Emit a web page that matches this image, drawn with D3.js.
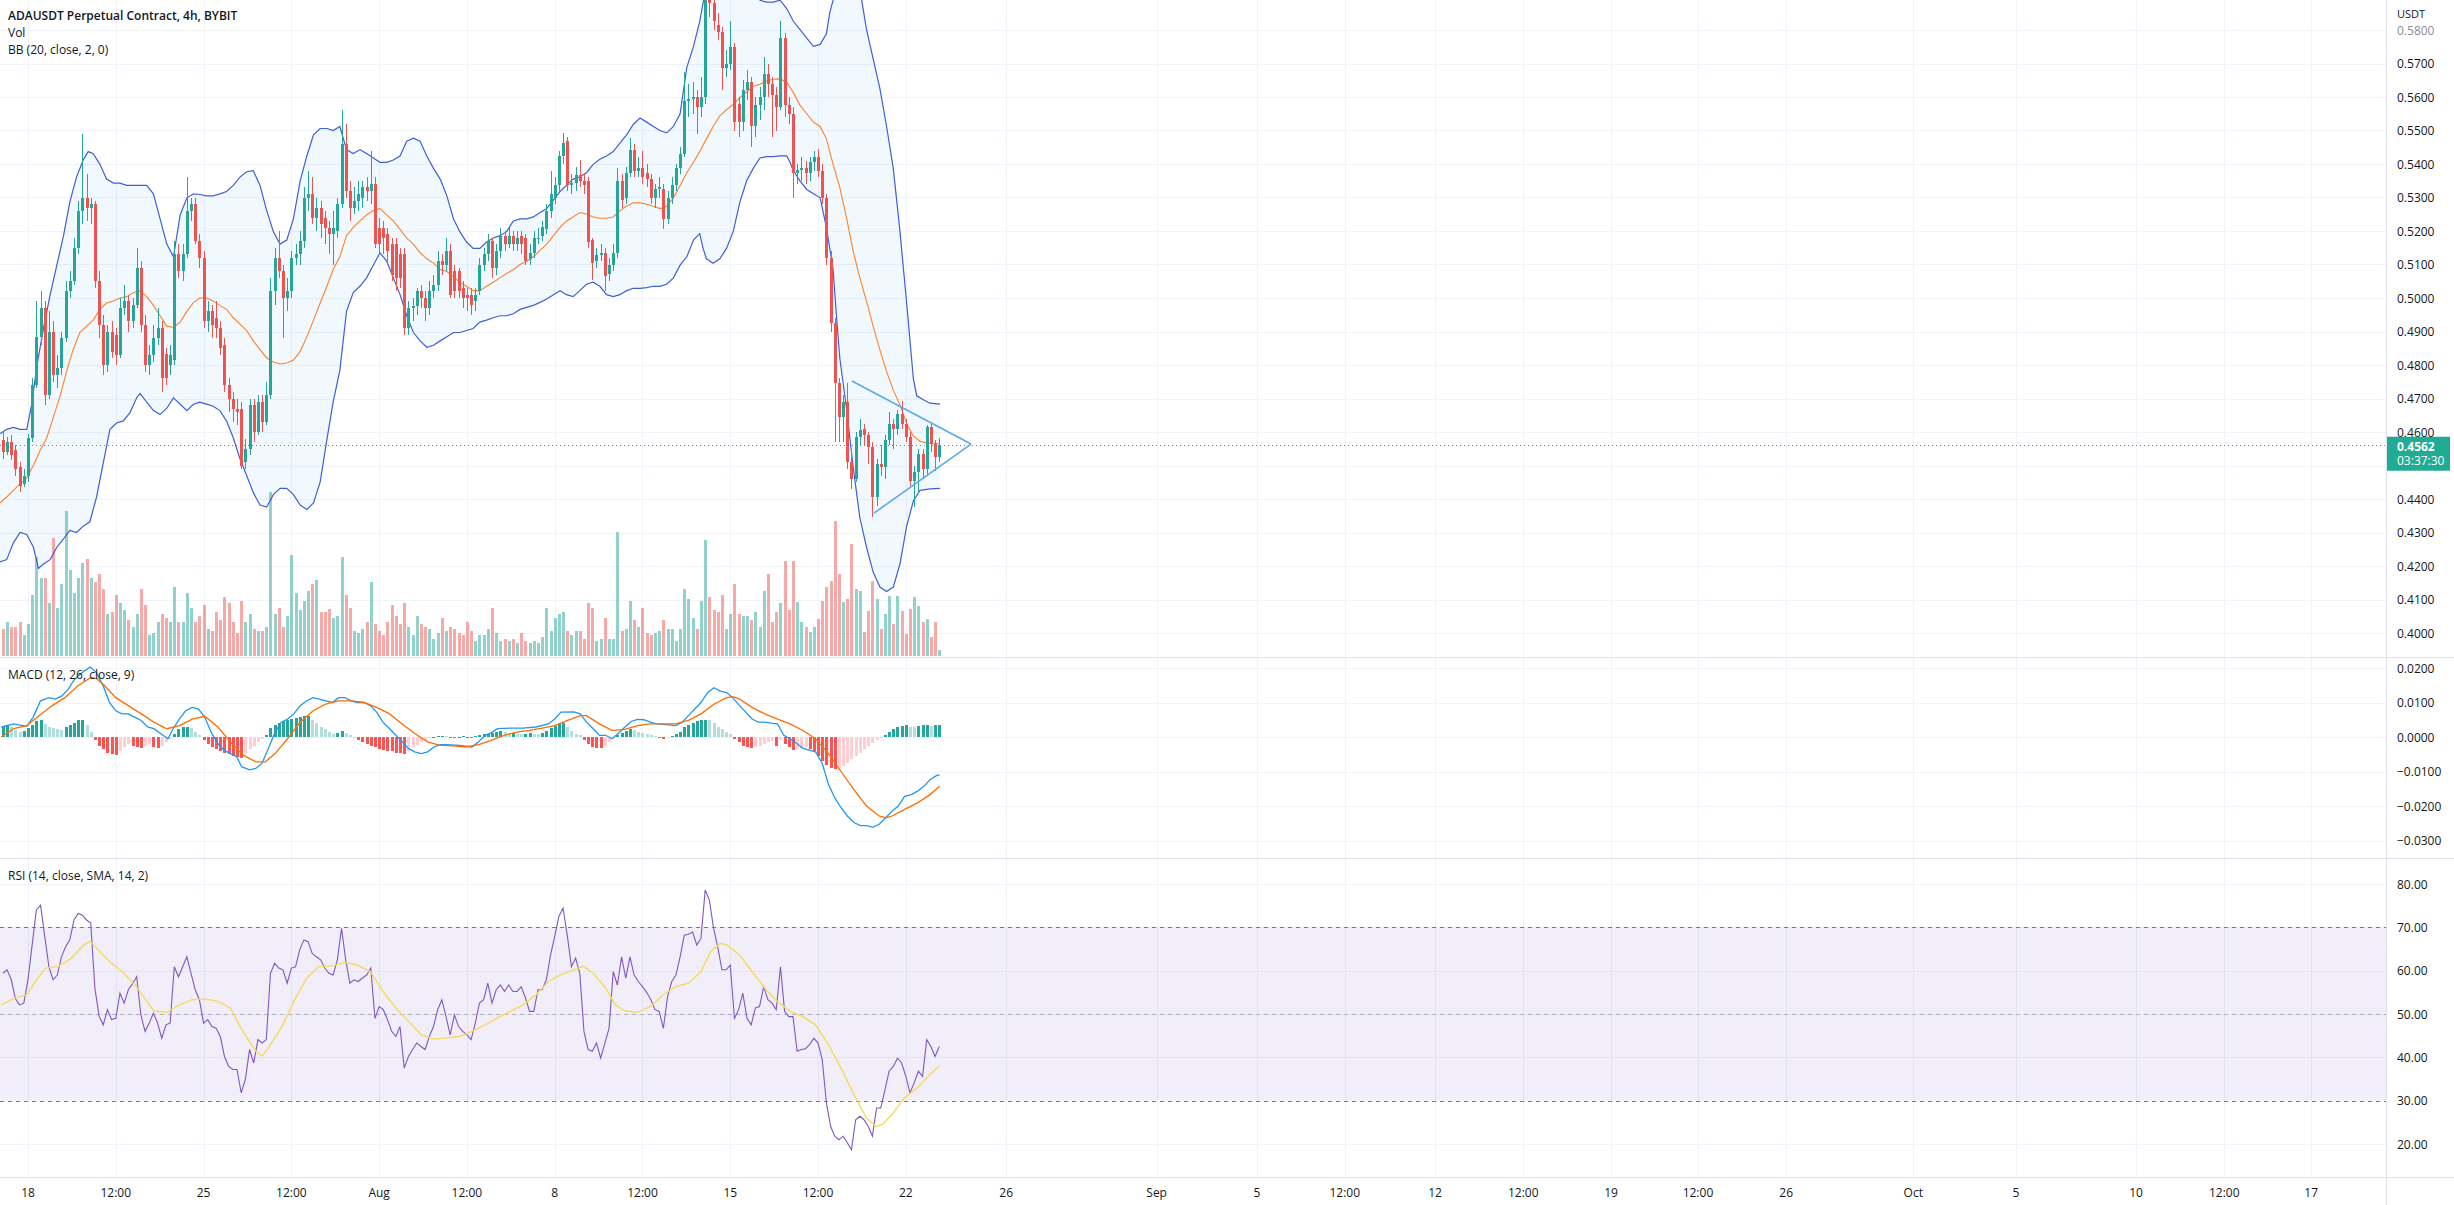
<!DOCTYPE html>
<html><head><meta charset="utf-8">
<script src="https://cdn.jsdelivr.net/npm/d3@7"></script>
<style>
html,body{margin:0;padding:0;background:#fff;overflow:hidden}
svg{display:block;font-family:"Open Sans",sans-serif}
</style></head><body>
<svg id="c" width="2454" height="1205"></svg>
<script>
// ---------------- DATA ----------------
const firstBar = -6; // bar index of the first candle (bar 0 = Jul 18 00:00, 4h bars)
const ohlc = [
[0.4577,0.4600,0.4520,0.4539],[0.4539,0.4585,0.4530,0.4570],[0.4570,0.4590,0.4515,0.4530],[0.4545,0.4560,0.4470,0.4490],
[0.4495,0.4510,0.4420,0.4440],[0.4445,0.4490,0.4435,0.4470],[0.4470,0.4595,0.4450,0.4583],[0.4583,0.4760,0.4570,0.4740],
[0.4740,0.4990,0.4730,0.4884],[0.4884,0.5020,0.4860,0.4970],[0.4970,0.4990,0.4680,0.4710],[0.4710,0.4960,0.4700,0.4900],
[0.4900,0.4930,0.4750,0.4770],[0.4770,0.4830,0.4730,0.4790],[0.4790,0.4900,0.4770,0.4880],[0.4880,0.5050,0.4870,0.5020],
[0.5020,0.5080,0.5000,0.5050],[0.5050,0.5180,0.5040,0.5150],[0.5150,0.5290,0.5130,0.5260],[0.5260,0.5490,0.5220,0.5300],
[0.5300,0.5370,0.5230,0.5270],[0.5270,0.5300,0.5220,0.5280],[0.5280,0.5290,0.5030,0.5050],[0.5050,0.5080,0.4880,0.4920],
[0.4920,0.4950,0.4770,0.4800],[0.4800,0.4920,0.4780,0.4900],[0.4900,0.4930,0.4820,0.4840],[0.4890,0.4910,0.4800,0.4830],
[0.4830,0.5000,0.4820,0.4970],[0.4970,0.5040,0.4950,0.4990],[0.4990,0.5010,0.4900,0.4930],[0.4930,0.5000,0.4910,0.4980],
[0.4980,0.5150,0.4970,0.5090],[0.5090,0.5110,0.4900,0.4920],[0.4920,0.4950,0.4780,0.4800],[0.4800,0.4860,0.4770,0.4830],
[0.4830,0.4920,0.4810,0.4880],[0.4880,0.4970,0.4860,0.4910],[0.4910,0.4930,0.4720,0.4760],[0.4834,0.4850,0.4740,0.4760],
[0.4800,0.4860,0.4770,0.4830],[0.4815,0.5170,0.4800,0.5130],[0.5130,0.5160,0.5060,0.5080],[0.5080,0.5160,0.5050,0.5130],
[0.5130,0.5360,0.5120,0.5260],[0.5260,0.5300,0.5230,0.5280],[0.5280,0.5300,0.5160,0.5170],[0.5170,0.5190,0.5090,0.5120],
[0.5120,0.5140,0.4910,0.4930],[0.4930,0.4990,0.4900,0.4960],[0.4960,0.4980,0.4880,0.4920],[0.4940,0.4990,0.4880,0.4910],
[0.4910,0.4930,0.4830,0.4850],[0.4860,0.4880,0.4720,0.4740],[0.4740,0.4760,0.4660,0.4700],[0.4700,0.4720,0.4630,0.4670],
[0.4670,0.4700,0.4620,0.4660],[0.4670,0.4690,0.4490,0.4500],[0.4510,0.4580,0.4490,0.4550],[0.4550,0.4700,0.4530,0.4680],
[0.4680,0.4700,0.4570,0.4600],[0.4600,0.4710,0.4590,0.4690],[0.4690,0.4710,0.4600,0.4630],[0.4630,0.4750,0.4620,0.4710],
[0.4710,0.5060,0.4700,0.5020],[0.5020,0.5150,0.4980,0.5120],[0.5120,0.5200,0.5060,0.5080],[0.5080,0.5100,0.4880,0.5000],
[0.5000,0.5060,0.4960,0.5020],[0.5020,0.5140,0.5000,0.5120],[0.5120,0.5160,0.5100,0.5130],[0.5130,0.5200,0.5100,0.5170],
[0.5170,0.5330,0.5150,0.5300],[0.5300,0.5380,0.5260,0.5310],[0.5310,0.5360,0.5220,0.5240],[0.5240,0.5300,0.5200,0.5270],
[0.5270,0.5290,0.5180,0.5220],[0.5240,0.5260,0.5160,0.5210],[0.5210,0.5230,0.5130,0.5190],[0.5190,0.5260,0.5100,0.5210],
[0.5200,0.5300,0.5180,0.5280],[0.5280,0.5560,0.5270,0.5460],[0.5460,0.5520,0.5300,0.5320],[0.5320,0.5350,0.5230,0.5270],
[0.5270,0.5330,0.5250,0.5290],[0.5290,0.5350,0.5260,0.5310],[0.5300,0.5350,0.5270,0.5330],[0.5330,0.5360,0.5290,0.5320],
[0.5320,0.5440,0.5280,0.5340],[0.5340,0.5360,0.5150,0.5160],[0.5210,0.5240,0.5130,0.5160],[0.5210,0.5230,0.5130,0.5180],
[0.5190,0.5210,0.5100,0.5140],[0.5160,0.5180,0.5050,0.5070],[0.5160,0.5180,0.5020,0.5060],[0.5130,0.5150,0.5030,0.5060],
[0.5130,0.5150,0.4890,0.4910],[0.4910,0.4990,0.4890,0.4970],[0.4970,0.5000,0.4930,0.4975],[0.4975,0.5030,0.4950,0.5020],
[0.5020,0.5040,0.4970,0.5000],[0.5000,0.5020,0.4930,0.4970],[0.4970,0.5050,0.4950,0.5020],[0.5020,0.5070,0.5000,0.5040],
[0.5040,0.5140,0.5020,0.5110],[0.5110,0.5130,0.5070,0.5100],[0.5100,0.5180,0.5080,0.5140],[0.5140,0.5160,0.5000,0.5010],
[0.5080,0.5100,0.5000,0.5020],[0.5080,0.5090,0.5000,0.5020],[0.5030,0.5050,0.4970,0.5000],[0.5010,0.5030,0.4960,0.5000],
[0.5010,0.5030,0.4950,0.4980],[0.4990,0.5030,0.4960,0.5010],[0.5020,0.5120,0.5010,0.5100],[0.5100,0.5150,0.5080,0.5130],
[0.5130,0.5190,0.5110,0.5170],[0.5170,0.5180,0.5060,0.5090],[0.5090,0.5160,0.5070,0.5140],[0.5140,0.5210,0.5120,0.5186],
[0.5186,0.5200,0.5140,0.5161],[0.5161,0.5210,0.5150,0.5186],[0.5186,0.5200,0.5140,0.5161],[0.5161,0.5200,0.5140,0.5180],
[0.5186,0.5200,0.5130,0.5161],[0.5180,0.5190,0.5098,0.5110],[0.5117,0.5160,0.5100,0.5135],[0.5135,0.5200,0.5120,0.5180],
[0.5175,0.5210,0.5160,0.5180],[0.5186,0.5230,0.5170,0.5211],[0.5205,0.5280,0.5190,0.5261],[0.5261,0.5380,0.5240,0.5311],
[0.5300,0.5360,0.5280,0.5336],[0.5336,0.5440,0.5320,0.5424],[0.5424,0.5493,0.5400,0.5462],[0.5468,0.5480,0.5320,0.5336],
[0.5336,0.5370,0.5310,0.5343],[0.5343,0.5390,0.5320,0.5368],[0.5368,0.5412,0.5330,0.5349],[0.5349,0.5370,0.5310,0.5336],
[0.5349,0.5360,0.5150,0.5167],[0.5173,0.5180,0.5054,0.5104],[0.5110,0.5150,0.5090,0.5129],[0.5129,0.5160,0.5110,0.5135],
[0.5135,0.5150,0.5022,0.5066],[0.5073,0.5120,0.5050,0.5098],[0.5098,0.5160,0.5080,0.5135],[0.5135,0.5387,0.5120,0.5349],
[0.5349,0.5370,0.5270,0.5292],[0.5299,0.5390,0.5280,0.5374],[0.5374,0.5479,0.5360,0.5443],[0.5443,0.5460,0.5360,0.5380],
[0.5380,0.5420,0.5360,0.5387],[0.5387,0.5440,0.5340,0.5361],[0.5374,0.5400,0.5330,0.5355],[0.5355,0.5370,0.5280,0.5299],
[0.5299,0.5340,0.5270,0.5324],[0.5324,0.5360,0.5300,0.5330],[0.5324,0.5340,0.5205,0.5236],[0.5236,0.5320,0.5220,0.5299],
[0.5299,0.5360,0.5280,0.5336],[0.5336,0.5400,0.5320,0.5387],[0.5387,0.5450,0.5370,0.5431],[0.5431,0.5675,0.5420,0.5588],
[0.5588,0.5640,0.5540,0.5594],[0.5594,0.5645,0.5550,0.5600],[0.5600,0.5620,0.5490,0.5569],[0.5569,0.5660,0.5540,0.5600],
[0.5600,0.5990,0.5580,0.5920],[0.5920,0.5980,0.5840,0.5880],[0.5880,0.5900,0.5800,0.5826],[0.5814,0.5850,0.5770,0.5795],
[0.5795,0.5810,0.5620,0.5688],[0.5688,0.5740,0.5660,0.5700],[0.5700,0.5826,0.5680,0.5750],[0.5750,0.5760,0.5500,0.5525],
[0.5580,0.5600,0.5480,0.5525],[0.5525,0.5650,0.5500,0.5620],[0.5620,0.5680,0.5590,0.5644],[0.5644,0.5660,0.5450,0.5512],
[0.5512,0.5600,0.5480,0.5575],[0.5575,0.5630,0.5530,0.5600],[0.5600,0.5720,0.5560,0.5670],[0.5670,0.5700,0.5600,0.5638],
[0.5638,0.5660,0.5480,0.5607],[0.5607,0.5630,0.5500,0.5570],[0.5570,0.5826,0.5560,0.5776],[0.5776,0.5790,0.5540,0.5575],
[0.5575,0.5600,0.5520,0.5550],[0.5550,0.5570,0.5300,0.5374],[0.5374,0.5400,0.5340,0.5382],[0.5382,0.5420,0.5350,0.5387],
[0.5387,0.5410,0.5340,0.5374],[0.5374,0.5420,0.5350,0.5405],[0.5405,0.5440,0.5380,0.5420],[0.5420,0.5445,0.5360,0.5380],
[0.5380,0.5400,0.5280,0.5300],[0.5300,0.5310,0.5100,0.5120],[0.5120,0.5140,0.4900,0.4925],[0.4925,0.4940,0.4570,0.4746],
[0.4746,0.4760,0.4570,0.4645],[0.4645,0.4710,0.4570,0.4689],[0.4689,0.4746,0.4490,0.4510],[0.4510,0.4550,0.4430,0.4460],
[0.4460,0.4600,0.4450,0.4585],[0.4585,0.4640,0.4560,0.4605],[0.4610,0.4625,0.4560,0.4590],[0.4590,0.4600,0.4505,0.4555],
[0.4555,0.4570,0.4347,0.4406],[0.4406,0.4520,0.4380,0.4505],[0.4505,0.4560,0.4470,0.4496],[0.4496,0.4590,0.4460,0.4575],
[0.4575,0.4660,0.4560,0.4625],[0.4625,0.4640,0.4550,0.4610],[0.4610,0.4665,0.4590,0.4655],[0.4655,0.4694,0.4610,0.4625],
[0.4625,0.4640,0.4570,0.4585],[0.4585,0.4600,0.4440,0.4455],[0.4455,0.4500,0.4375,0.4480],[0.4480,0.4550,0.4420,0.4535],
[0.4535,0.4550,0.4460,0.4490],[0.4490,0.4620,0.4470,0.4615],[0.4615,0.4625,0.4540,0.4565],[0.4565,0.4575,0.4485,0.4525],
[0.4525,0.4582,0.4510,0.4562]
];
const volume = [
6.5,8,7,7,8,5,7.5,14.5,23.5,18.5,18.5,12.5,28,11.5,17,34.5,20.5,15,18.5,22,23,18.5,17.5,19.5,16,10,10.5,14.5,12.5,11,
8.5,7,10,16,12,5,5.5,8,10,9,8,16.5,8,8,15,11.5,8,9.5,12,6.5,6,10.5,8.5,14,12.5,8,5.5,13,8,10,
6.5,6,6,7,39,10,11.5,7,9.5,24,15,11,13,15.5,17,18,10.5,10.5,11.2,9,9.5,23.5,14.5,11.5,6,5.5,6.5,8,17.5,7.5,
6,5,8,12,9.5,7.5,12.5,7,5,9.5,7.5,7,6.5,4,5.5,9,6,7,6.5,5.5,5,8,6,3.5,5,5,6.5,11.5,5.5,
3.5,4,3.5,4,3,5.5,3.5,3,3.5,3,4.5,11.5,6,9,10,10.5,6,5,6,6,4,12.5,11.5,3.5,4,9,4,4,29.5,6,
6.5,13,8.5,7,11.5,5.5,5,5.5,6,8.5,6.5,6.5,3.5,6.5,16,13.5,9,6.5,13,27.5,14,11,10.5,14.5,6.5,10,17,10,9.5,9.5,
8.5,10.5,7,15.5,19.5,8,10.5,12.5,22.5,11,22.5,12.8,8.1,6.9,5.7,6.9,8.8,13.1,16.4,17.8,32,19.5,12.8,13.5,26.6,15.9,15.4,5.7,10.7,17.8,
13.5,6.4,10,14.3,7.6,14.3,10.7,5.2,11.2,14,11.9,8.1,8.8,4.5,8.1,1.5
];
// Bollinger Bands (20, close, 2): [bar index, price]
const bbUpper = [[-6.7,0.4595],[-5.1,0.4608],[-3.5,0.4614],[-1.9,0.4608],[-0.3,0.4608],[0.9,0.4683],[2.1,0.4796],[3.7,0.4909],[5.3,0.5010],[6.9,0.5098],[8.5,0.5186],[10.0,0.5286],[11.6,0.5361],[13.2,0.5412],[14.4,0.5437],[15.6,0.5431],[17.2,0.5399],[18.8,0.5355],[20.4,0.5343],[22.0,0.5343],[23.6,0.5336],[25.2,0.5336],[26.8,0.5336],[28.4,0.5336],[30.0,0.5311],[31.6,0.5236],[33.2,0.5161],[34.8,0.5123],[36.4,0.5248],[38.0,0.5299],[39.6,0.5311],[41.1,0.5309],[42.7,0.5305],[44.3,0.5305],[45.9,0.5311],[47.5,0.5318],[49.1,0.5336],[50.7,0.5361],[52.3,0.5377],[53.9,0.5380],[55.5,0.5336],[57.1,0.5261],[58.7,0.5198],[60.3,0.5161],[61.9,0.5173],[63.5,0.5236],[65.1,0.5349],[66.7,0.5424],[68.3,0.5487],[69.9,0.5506],[71.5,0.5506],[73.0,0.5500],[74.6,0.5512],[76.2,0.5443],[77.8,0.5431],[79.4,0.5443],[81.0,0.5431],[82.6,0.5418],[84.2,0.5405],[85.8,0.5405],[87.4,0.5412],[89.0,0.5424],[90.6,0.5468],[92.2,0.5477],[93.8,0.5468],[95.4,0.5424],[97.0,0.5387],[98.6,0.5355],[100.2,0.5305],[101.8,0.5236],[103.3,0.5198],[104.9,0.5167],[106.5,0.5148],[108.1,0.5148],[109.7,0.5167],[111.3,0.5179],[112.9,0.5186],[114.5,0.5198],[116.1,0.5230],[117.7,0.5236],[119.3,0.5236],[120.9,0.5242],[122.5,0.5255],[124.1,0.5267],[125.7,0.5292],[127.3,0.5318],[128.8,0.5336],[130.4,0.5355],[132.0,0.5361],[133.6,0.5374],[135.2,0.5399],[136.8,0.5414],[138.4,0.5424],[140.0,0.5437],[141.6,0.5462],[143.2,0.5487],[144.8,0.5518],[146.4,0.5537],[148.0,0.5525],[149.6,0.5512],[151.2,0.5500],[152.8,0.5493],[154.4,0.5512],[156.0,0.5550],[157.6,0.5688],[159.2,0.5751],[160.7,0.5826],[162.5,0.5950],[165,0.6030],[168,0.6040],[171,0.5990],[174,0.5920],[175.1,0.5889],[176.7,0.5883],[178.3,0.5883],[179.9,0.5889],[181.5,0.5864],[183.1,0.5826],[184.7,0.5801],[186.3,0.5776],[187.9,0.5751],[189.5,0.5757],[191.0,0.5789],[191.8,0.5851],[192.6,0.5889],[194,0.5990],[196,0.6050],[198,0.6000],[199.3,0.5900],[200.6,0.5801],[202.2,0.5713],[203.8,0.5625],[205.4,0.5512],[207.0,0.5387],[208.6,0.5198],[210.2,0.4985],[211.0,0.4872],[211.8,0.4759],[212.6,0.4708],[214.2,0.4696],[215.8,0.4686],[218.2,0.4683]];
const bbLower = [[-6.7,0.4212],[-5.1,0.4219],[-3.5,0.4269],[-1.9,0.4300],[-0.3,0.4294],[1.3,0.4256],[2.5,0.4193],[3.7,0.4206],[5.3,0.4219],[6.9,0.4256],[8.5,0.4281],[10.0,0.4306],[11.6,0.4300],[13.2,0.4319],[14.8,0.4332],[16.4,0.4406],[18.0,0.4507],[19.6,0.4608],[21.2,0.4627],[22.8,0.4633],[24.4,0.4658],[26.0,0.4702],[26.8,0.4715],[28.4,0.4689],[30.0,0.4664],[31.6,0.4652],[33.2,0.4671],[34.8,0.4702],[36.4,0.4683],[38.0,0.4664],[39.6,0.4683],[41.1,0.4689],[42.7,0.4683],[44.3,0.4677],[45.9,0.4664],[47.5,0.4633],[49.1,0.4583],[50.7,0.4520],[52.3,0.4470],[53.9,0.4419],[55.5,0.4382],[57.1,0.4376],[58.7,0.4413],[60.3,0.4432],[61.9,0.4432],[63.5,0.4413],[65.1,0.4382],[66.7,0.4369],[68.3,0.4388],[69.9,0.4451],[71.5,0.4577],[73.0,0.4689],[74.6,0.4784],[76.2,0.4960],[77.8,0.5016],[79.4,0.5035],[81.0,0.5060],[82.6,0.5098],[84.2,0.5135],[85.8,0.5110],[87.4,0.5060],[89.0,0.5010],[90.6,0.4947],[92.2,0.4897],[93.8,0.4872],[95.4,0.4853],[97.0,0.4859],[98.6,0.4872],[100.2,0.4884],[101.8,0.4897],[103.3,0.4897],[104.9,0.4903],[106.5,0.4909],[108.1,0.4928],[109.7,0.4934],[111.3,0.4941],[112.9,0.4947],[114.5,0.4947],[116.1,0.4953],[117.7,0.4966],[119.3,0.4972],[120.9,0.4978],[122.5,0.4987],[124.1,0.4997],[125.7,0.5010],[127.3,0.5022],[128.8,0.5010],[130.4,0.5004],[132.0,0.5022],[133.6,0.5041],[135.2,0.5047],[136.8,0.5035],[138.4,0.5010],[140.0,0.5004],[141.6,0.5010],[143.2,0.5022],[144.8,0.5029],[146.4,0.5029],[148.0,0.5031],[149.6,0.5035],[151.2,0.5035],[152.8,0.5041],[154.4,0.5060],[156.0,0.5098],[157.6,0.5123],[159.2,0.5173],[160.7,0.5192],[161.5,0.5148],[162.3,0.5117],[163.9,0.5104],[165.5,0.5117],[167.1,0.5148],[168.7,0.5198],[170.3,0.5286],[171.9,0.5349],[173.5,0.5387],[175.1,0.5418],[176.7,0.5422],[178.3,0.5422],[179.9,0.5424],[181.5,0.5424],[182.3,0.5405],[183.1,0.5380],[184.7,0.5349],[186.3,0.5324],[187.9,0.5311],[189.5,0.5299],[191.0,0.5211],[192.6,0.5085],[193.4,0.4947],[194.2,0.4821],[195.8,0.4671],[197.4,0.4495],[199.0,0.4344],[200.6,0.4256],[202.2,0.4181],[203.8,0.4137],[205.4,0.4124],[207.0,0.4137],[208.6,0.4206],[210.2,0.4319],[211.8,0.4394],[213.4,0.4426],[215.8,0.4430],[218.2,0.4432]];
const bbBasis = [[-6.7,0.4388],[-5.1,0.4406],[-3.5,0.4426],[-1.9,0.4445],[-0.3,0.4463],[1.3,0.4501],[2.9,0.4545],[4.5,0.4583],[6.1,0.4646],[7.7,0.4708],[9.3,0.4784],[10.8,0.4846],[12.4,0.4897],[14.0,0.4916],[15.6,0.4934],[17.2,0.4966],[18.8,0.4985],[20.4,0.4991],[22.0,0.5000],[23.6,0.5004],[25.2,0.5016],[26.8,0.5022],[28.4,0.5004],[30.0,0.4978],[31.6,0.4947],[33.2,0.4916],[34.8,0.4912],[36.4,0.4928],[38.0,0.4960],[39.6,0.4987],[41.1,0.5000],[42.7,0.5000],[44.3,0.4991],[45.9,0.4978],[47.5,0.4966],[49.1,0.4941],[50.7,0.4922],[52.3,0.4903],[53.9,0.4872],[55.5,0.4846],[57.1,0.4821],[58.7,0.4809],[60.3,0.4803],[61.9,0.4806],[63.5,0.4815],[65.1,0.4840],[66.7,0.4884],[68.3,0.4934],[69.9,0.4985],[71.5,0.5035],[73.0,0.5085],[74.6,0.5123],[76.2,0.5186],[77.8,0.5211],[79.4,0.5230],[81.0,0.5248],[82.6,0.5261],[84.2,0.5267],[85.8,0.5248],[87.4,0.5230],[89.0,0.5205],[90.6,0.5179],[92.2,0.5161],[93.8,0.5135],[95.4,0.5117],[97.0,0.5104],[98.6,0.5085],[100.2,0.5079],[101.8,0.5063],[103.3,0.5047],[104.9,0.5035],[106.5,0.5022],[108.1,0.5022],[109.7,0.5035],[111.3,0.5047],[112.9,0.5060],[114.5,0.5073],[116.1,0.5085],[117.7,0.5100],[119.3,0.5110],[120.9,0.5123],[122.5,0.5142],[124.1,0.5161],[125.7,0.5186],[127.3,0.5211],[128.8,0.5230],[130.4,0.5242],[132.0,0.5255],[133.6,0.5251],[135.2,0.5242],[136.8,0.5238],[138.4,0.5238],[140.0,0.5242],[141.6,0.5261],[143.2,0.5274],[144.8,0.5284],[146.4,0.5284],[148.0,0.5280],[149.6,0.5274],[151.2,0.5267],[152.8,0.5274],[154.4,0.5299],[156.0,0.5336],[157.6,0.5374],[159.2,0.5405],[160.7,0.5437],[162.3,0.5475],[163.9,0.5512],[165.5,0.5544],[167.1,0.5562],[168.7,0.5578],[170.3,0.5598],[171.9,0.5615],[173.5,0.5632],[175.1,0.5638],[176.7,0.5648],[178.3,0.5653],[179.9,0.5654],[181.5,0.5644],[183.1,0.5613],[184.7,0.5575],[186.3,0.5550],[187.9,0.5525],[189.5,0.5512],[191.0,0.5475],[192.6,0.5399],[194.2,0.5330],[195.8,0.5240],[197.4,0.5140],[199.0,0.5060],[200.6,0.4990],[202.2,0.4915],[203.8,0.4845],[205.4,0.4780],[207.0,0.4725],[208.6,0.4681],[210.2,0.4625],[211.7,0.4590],[213.4,0.4572],[215.0,0.4567],[218.0,0.4565]];
// MACD (12, 26, close, 9)
const macdLine = [[-6.4,0.0029],[-3.4,0.0038],[-0.3,0.0031],[1.2,0.0057],[3.0,0.0105],[5.0,0.0114],[6.5,0.0110],[8.1,0.0119],[9.6,0.0138],[11.1,0.0167],[13.4,0.0191],[14.9,0.0203],[16.4,0.0186],[18.0,0.0148],[19.5,0.0100],[21.0,0.0076],[22.5,0.0067],[24.0,0.0067],[25.6,0.0057],[27.1,0.0048],[28.6,0.0029],[30.1,0.0024],[31.7,0.0010],[33.5,-0.0005],[34.7,0.0024],[36.2,0.0052],[37.7,0.0076],[39.3,0.0086],[40.8,0.0081],[42.3,0.0057],[43.8,0.0014],[45.4,-0.0019],[46.9,-0.0038],[48.4,-0.0048],[49.9,-0.0057],[51.1,-0.0086],[53.0,-0.0095],[54.5,-0.0091],[56.0,-0.0076],[57.5,-0.0033],[59.1,0.0014],[60.6,0.0043],[62.1,0.0052],[63.6,0.0067],[65.1,0.0091],[66.7,0.0105],[68.2,0.0114],[69.7,0.0110],[71.2,0.0105],[72.8,0.0100],[74.3,0.0114],[75.8,0.0114],[77.3,0.0105],[78.8,0.0100],[80.4,0.0100],[81.9,0.0091],[83.4,0.0072],[84.9,0.0043],[86.5,0.0024],[88.0,0.0005],[89.5,-0.0014],[91.0,-0.0033],[92.5,-0.0043],[94.1,-0.0048],[95.6,-0.0043],[97.1,-0.0029],[98.6,-0.0022],[100.2,-0.0022],[103.2,-0.0024],[106.2,-0.0029],[107.8,-0.0014],[109.3,0.0005],[110.8,0.0012],[112.3,0.0024],[115.4,0.0026],[118.4,0.0026],[121.5,0.0029],[124.5,0.0038],[126.0,0.0052],[127.5,0.0072],[130.6,0.0073],[132.1,0.0067],[133.6,0.0043],[135.2,0.0024],[136.7,0.0005],[138.2,0.0005],[139.7,-0.0005],[141.2,0.0010],[142.8,0.0029],[144.3,0.0045],[145.8,0.0051],[147.3,0.0050],[148.9,0.0043],[150.4,0.0038],[153.4,0.0035],[154.9,0.0033],[156.5,0.0043],[158.0,0.0062],[159.5,0.0081],[161.0,0.0100],[162.6,0.0129],[164.1,0.0143],[165.6,0.0133],[167.1,0.0129],[168.6,0.0114],[170.2,0.0091],[171.7,0.0072],[173.2,0.0052],[174.7,0.0043],[176.3,0.0043],[177.8,0.0040],[179.3,0.0038],[180.8,0.0005],[182.3,-0.0005],[183.9,-0.0019],[185.4,-0.0033],[186.9,-0.0038],[188.4,-0.0043],[190.0,-0.0076],[191.5,-0.0138],[193.0,-0.0176],[194.5,-0.0205],[196.0,-0.0229],[197.6,-0.0248],[199.1,-0.0257],[200.6,-0.0257],[202.1,-0.0262],[203.6,-0.0253],[205.2,-0.0234],[206.7,-0.0215],[208.2,-0.0200],[209.7,-0.0172],[211.3,-0.0167],[212.8,-0.0157],[214.3,-0.0143],[215.8,-0.0124],[217.3,-0.0112],[218.1,-0.0110]];
const macdSignal = [[-6.4,0.0000],[-3.4,0.0024],[-0.3,0.0033],[2.7,0.0062],[5.8,0.0091],[8.8,0.0114],[11.9,0.0148],[14.9,0.0172],[16.4,0.0169],[18.0,0.0153],[21.0,0.0114],[24.0,0.0091],[27.1,0.0067],[30.1,0.0043],[33.2,0.0024],[36.2,0.0033],[39.3,0.0052],[42.3,0.0060],[45.4,0.0029],[48.4,-0.0014],[51.4,-0.0052],[54.5,-0.0072],[56.8,-0.0072],[59.1,-0.0048],[62.1,-0.0005],[65.1,0.0043],[68.2,0.0076],[71.2,0.0095],[74.3,0.0105],[77.3,0.0105],[80.4,0.0100],[83.4,0.0086],[86.5,0.0067],[89.5,0.0038],[92.5,0.0010],[95.6,-0.0014],[98.6,-0.0024],[101.7,-0.0026],[104.7,-0.0029],[107.8,-0.0022],[110.8,-0.0010],[113.9,0.0005],[116.9,0.0014],[119.9,0.0019],[123.0,0.0026],[126.0,0.0033],[129.1,0.0048],[132.1,0.0062],[133.6,0.0062],[136.7,0.0038],[139.7,0.0019],[142.8,0.0022],[145.8,0.0033],[148.9,0.0038],[151.9,0.0038],[154.9,0.0038],[158.0,0.0048],[161.0,0.0067],[164.1,0.0095],[167.1,0.0114],[168.6,0.0117],[170.2,0.0110],[173.2,0.0086],[176.3,0.0067],[179.3,0.0052],[182.3,0.0038],[185.4,0.0019],[188.4,-0.0005],[191.5,-0.0048],[194.5,-0.0100],[197.6,-0.0153],[200.6,-0.0200],[203.6,-0.0229],[205.2,-0.0234],[206.7,-0.0229],[209.7,-0.0210],[212.8,-0.0191],[215.8,-0.0167],[218.1,-0.0143]];
const macdHist = [
.0030,.0035,.0028,.0020,.0015,.0018,.0025,.0035,.0045,.0048,.0038,.0030,.0025,.0022,.0020,.0028,.0035,.0042,.0048,.0050,
.0035,.0015,-.0010,-.0025,-.0035,-.0045,-.0050,-.0052,-.0040,-.0030,-.0020,-.0025,-.0030,-.0033,-.0025,-.0020,-.0030,-.0032,-.0025,-.0015,
-.0005,.0010,.0022,.0030,.0030,.0025,.0015,.0005,-.0008,-.0020,-.0030,-.0035,-.0040,-.0045,-.0050,-.0055,-.0058,-.0060,-.0045,-.0035,
-.0025,-.0015,-.0005,.0005,.0025,.0035,.0042,.0045,.0048,.0052,.0055,.0058,.0060,.0062,.0050,.0040,.0030,.0022,.0015,.0010,
.0012,.0018,.0012,.0005,.0000,-.0008,-.0015,-.0020,-.0025,-.0030,-.0035,-.0038,-.0040,-.0042,-.0045,-.0047,-.0048,-.0040,-.0030,-.0022,
-.0015,-.0008,-.0003,.0000,.0003,.0003,.0002,-.0001,-.0002,.0001,.0002,-.0001,-.0003,.0002,.0005,.0008,.0010,.0012,.0015,.0016,
.0014,.0012,.0012,.0010,.0008,.0010,.0012,.0010,.0008,.0012,.0018,.0025,.0032,.0038,.0040,.0030,.0018,.0010,.0005,-.0010,
-.0020,-.0028,-.0032,-.0033,-.0025,-.0015,-.0005,.0005,.0012,.0018,.0022,.0020,.0015,.0012,.0008,.0005,.0002,-.0002,-.0005,-.0003,
.0002,.0008,.0015,.0028,.0035,.0040,.0045,.0048,.0050,.0048,.0040,.0030,.0022,.0015,.0008,-.0005,-.0015,-.0025,-.0030,-.0033,
-.0028,-.0025,-.0020,-.0015,-.0012,-.0025,-.0010,-.0020,-.0030,-.0038,-.0035,-.0032,-.0030,-.0035,-.0040,-.0055,-.0070,-.0080,-.0090,-.0092,
-.0090,-.0085,-.0075,-.0065,-.0055,-.0045,-.0035,-.0025,-.0018,-.0010,-.0002,.0005,.0015,.0022,.0028,.0032,.0035,.0030,.0028,.0032,
.0035,.0035,.0032,.0035,.0035
];
// RSI (14, close) per bar and its SMA(14)
const rsi = [
59.4,60.2,57.9,53.5,52.1,52.5,58.0,66.0,74.0,75.1,67.9,60.9,57.9,59.0,63.2,65.5,67.1,71.7,73.2,72.8,
71.7,71.0,56.0,49.5,47.5,51.0,48.7,49.0,54.8,52.5,55.6,57.0,58.6,49.8,46.0,47.9,50.2,47.9,44.4,47.5,
47.9,60.9,58.6,60.9,63.2,59.4,55.6,53.3,47.9,48.7,47.1,46.7,44.8,40.2,37.9,37.2,37.2,31.8,34.9,41.8,
38.7,44.1,43.3,44.1,59.4,61.7,60.6,60.2,57.1,60.6,60.9,64.8,67.1,66.7,64.0,63.2,62.5,60.6,59.4,59.0,
62.5,69.8,62.5,57.1,57.9,57.5,58.3,59.0,60.6,49.0,51.7,51.0,48.7,46.0,44.8,47.1,37.5,40.2,41.8,43.3,
42.5,41.8,44.8,47.1,51.0,53.3,49.4,45.2,49.8,47.1,46.0,45.2,44.1,47.9,52.5,53.3,57.1,52.5,55.6,56.7,
55.2,56.7,55.2,55.2,56.3,53.7,50.6,50.6,55.6,55.6,57.9,63.6,67.9,72.5,74.4,68.2,60.9,62.9,59.4,46.0,
41.8,41.4,43.3,39.8,43.3,46.7,59.8,56.7,63.2,58.3,63.2,59.0,57.5,56.3,55.0,53.3,51.0,50.6,46.7,54.0,
57.5,59.0,63.2,68.2,68.4,68.9,65.9,67.5,78.6,76.3,69.8,65.5,60.2,60.2,61.3,49.0,51.0,54.8,49.0,47.5,
51.4,51.7,56.3,53.3,52.5,51.0,60.9,50.6,49.4,49.4,41.4,41.8,42.0,43.0,44.4,43.3,39.5,29.5,24.1,21.8,
21.0,21.8,20.3,18.7,25.6,26.4,25.6,24.1,21.8,28.3,28.3,32.5,36.8,37.9,39.8,38.7,35.6,31.8,34.1,36.8,
35.6,44.1,42.5,40.2,42.5
];
const rsiSma = [[-6.4,52.1],[-3.4,53.6],[-0.3,54.4],[2.0,57.9],[4.3,60.6],[7.3,61.0],[10.4,62.9],[13.4,66.0],[14.9,66.7],[16.4,65.2],[19.5,62.1],[22.5,59.8],[25.6,56.7],[27.9,53.6],[30.1,50.7],[33.2,50.4],[36.2,52.1],[39.3,53.3],[42.3,53.5],[45.4,52.9],[48.4,51.4],[51.4,46.0],[54.5,41.4],[56.0,40.3],[57.5,42.2],[60.6,46.8],[63.6,52.9],[66.7,58.3],[69.7,61.0],[72.8,61.1],[75.8,61.9],[78.8,61.3],[81.9,59.8],[84.9,55.2],[88.0,51.4],[91.0,48.3],[94.1,45.2],[97.1,44.2],[100.2,44.5],[103.2,44.8],[106.2,46.0],[109.3,47.5],[112.3,49.1],[115.4,50.6],[118.4,52.1],[121.5,54.4],[124.5,57.5],[127.5,59.1],[130.6,60.2],[132.9,61.0],[135.2,59.4],[138.2,56.0],[140.5,52.1],[142.8,50.7],[145.8,50.4],[148.9,51.7],[151.9,54.4],[155.0,56.3],[158.0,57.1],[161.0,59.8],[163.3,64.4],[165.6,66.3],[167.1,66.0],[170.2,63.6],[173.2,59.8],[176.3,55.9],[179.3,52.9],[182.3,50.6],[185.4,49.4],[188.4,47.5],[191.5,42.9],[194.5,37.5],[197.6,31.4],[200.6,26.0],[202.9,24.1],[204.4,24.5],[206.7,26.8],[209.7,30.7],[212.8,33.0],[215.8,36.1],[218.1,38.0]];
// Drawn triangle (two trend lines): [bar1, price1, bar2, price2]
const trendLines = [[197.1,0.4752,225.6,0.4564],[202.4,0.4358,225.6,0.4564]];
const lastPrice = 0.4562, countdown = "03:37:30";
// Axis ticks
const priceTicks = [0.40,0.41,0.42,0.43,0.44,0.45,0.46,0.47,0.48,0.49,0.50,0.51,0.52,0.53,0.54,0.55,0.56,0.57,0.58];
const macdTicks = [-0.03,-0.02,-0.01,0,0.01,0.02];
const rsiTicks = [20,30,40,50,60,70,80];
const timeTickBars = [0,21,42,63,84,105,126,147,168,189,210,234,270,294,315,336.6,357.7,378.7,399.5,420.6,451,475.6,504.3,525.4,546.2];
const timeTickLabels = ["18","12:00","25","12:00","Aug","12:00","8","12:00","15","12:00","22","26","Sep","5","12:00","12","12:00","19","12:00","26","Oct","5","10","12:00","17"];

// ---------------- DRAWING ----------------
const W = 2454, H = 1205, PR = 2386;
const panes = {main:[0,657], macd:[657,858], rsi:[858,1177]};
const svg = d3.select("#c");
const x = d3.scaleLinear().domain([-6.7, 564.1]).range([0, PR]);
const yP = d3.scaleLinear().domain([0.40, 0.58]).range([633, 30]);
const yV = d3.scaleLinear().domain([0, 40]).range([656, 487.6]);
const yM = d3.scaleLinear().domain([-0.03, 0.02]).range([840.5, 668]);
const yR = d3.scaleLinear().domain([20, 80]).range([1144, 884]);

const UP = "#26a69a", DN = "#ef5350", GRID = "#f0f3fa", SEP = "#e0e3eb", TXT = "#131722";
const defs = svg.append("defs");
Object.entries(panes).forEach(([k,[t,b]]) => {
  defs.append("clipPath").attr("id","clip-"+k).append("rect").attr("x",0).attr("y",t).attr("width",PR).attr("height",b-t);
});
svg.append("rect").attr("width",W).attr("height",H).attr("fill","#fff");

// grid
const grid = svg.append("g").attr("shape-rendering","crispEdges");
grid.selectAll(".vg").data(timeTickBars).join("line")
  .attr("x1",d=>Math.round(x(d))+0.5).attr("x2",d=>Math.round(x(d))+0.5).attr("y1",0).attr("y2",panes.rsi[1])
  .attr("stroke",GRID);
grid.selectAll(".hp").data(priceTicks).join("line").attr("x1",0).attr("x2",PR)
  .attr("y1",d=>Math.round(yP(d))+0.5).attr("y2",d=>Math.round(yP(d))+0.5).attr("stroke",GRID);
grid.selectAll(".hm").data(macdTicks).join("line").attr("x1",0).attr("x2",PR)
  .attr("y1",d=>Math.round(yM(d))+0.5).attr("y2",d=>Math.round(yM(d))+0.5).attr("stroke",GRID);
grid.selectAll(".hr").data(rsiTicks).join("line").attr("x1",0).attr("x2",PR)
  .attr("y1",d=>Math.round(yR(d))+0.5).attr("y2",d=>Math.round(yR(d))+0.5).attr("stroke",GRID);

// ---- main pane
const gm = svg.append("g").attr("clip-path","url(#clip-main)");
const upperF = d3.scaleLinear().domain(bbUpper.map(d=>d[0])).range(bbUpper.map(d=>d[1]));
const area = d3.area().x(d=>x(d[0])).y0(d=>yP(d[1])).y1(d=>yP(upperF(d[0])));
gm.append("path").datum(bbLower).attr("d",area).attr("fill","rgba(33,150,243,0.06)");
const bars = ohlc.map((d,k)=>({i:firstBar+k,o:d[0],h:d[1],l:d[2],c:d[3],v:volume[k]}));
gm.append("g").attr("shape-rendering","crispEdges").selectAll("rect").data(bars).join("rect")
  .attr("x",d=>Math.round(x(d.i))-1).attr("width",3)
  .attr("y",d=>yV(d.v)).attr("height",d=>yV(0)-yV(d.v))
  .attr("fill",d=>d.c>=d.o?"rgba(38,166,154,0.5)":"rgba(239,83,80,0.5)");
const line = (ys)=>d3.line().x(d=>x(d[0])).y(d=>ys(d[1]));
gm.append("path").datum(bbUpper).attr("d",line(yP)).attr("fill","none").attr("stroke","#3f5fd6").attr("stroke-width",1.2);
gm.append("path").datum(bbLower).attr("d",line(yP)).attr("fill","none").attr("stroke","#3f5fd6").attr("stroke-width",1.2);
gm.append("path").datum(bbBasis).attr("d",line(yP)).attr("fill","none").attr("stroke","#ff6d00").attr("stroke-width",1.1).attr("opacity",0.85);
const cg = gm.append("g").attr("shape-rendering","crispEdges");
cg.selectAll("line").data(bars).join("line")
  .attr("x1",d=>Math.round(x(d.i))+0.5).attr("x2",d=>Math.round(x(d.i))+0.5)
  .attr("y1",d=>yP(d.h)).attr("y2",d=>yP(d.l)).attr("stroke",d=>d.c>=d.o?UP:DN);
cg.selectAll("rect").data(bars).join("rect")
  .attr("x",d=>Math.round(x(d.i))-1).attr("width",3)
  .attr("y",d=>yP(Math.max(d.o,d.c))).attr("height",d=>Math.max(1,Math.abs(yP(d.o)-yP(d.c))))
  .attr("fill",d=>d.c>=d.o?UP:DN);
gm.append("line").attr("x1",0).attr("x2",PR).attr("y1",Math.round(yP(lastPrice))+0.5).attr("y2",Math.round(yP(lastPrice))+0.5)
  .attr("stroke",UP).attr("stroke-dasharray","1,3").attr("stroke-width",1);
gm.selectAll(".tl").data(trendLines).join("line")
  .attr("x1",d=>x(d[0])).attr("y1",d=>yP(d[1])).attr("x2",d=>x(d[2])).attr("y2",d=>yP(d[3]))
  .attr("stroke","#5fa8e6").attr("stroke-width",1.6);

// ---- MACD pane
const gc = svg.append("g").attr("clip-path","url(#clip-macd)");
const hist = macdHist.map((v,k)=>({i:firstBar+k,v,p:k?macdHist[k-1]:v}));
gc.append("g").attr("shape-rendering","crispEdges").selectAll("rect").data(hist).join("rect")
  .attr("x",d=>Math.round(x(d.i))-1).attr("width",3)
  .attr("y",d=>Math.min(yM(d.v),yM(0))).attr("height",d=>Math.max(1,Math.abs(yM(d.v)-yM(0))))
  .attr("fill",d=>d.v>=0?(d.v>=d.p?"#26a69a":"#b2dfdb"):(d.v<d.p?"#ff5252":"#ffcdd2"));
gc.append("path").datum(macdLine).attr("d",line(yM)).attr("fill","none").attr("stroke","#2196f3").attr("stroke-width",1.3);
gc.append("path").datum(macdSignal).attr("d",line(yM)).attr("fill","none").attr("stroke","#ff6d00").attr("stroke-width",1.3);

// ---- RSI pane
const gr = svg.append("g").attr("clip-path","url(#clip-rsi)");
gr.append("rect").attr("x",0).attr("width",PR).attr("y",yR(70)).attr("height",yR(30)-yR(70)).attr("fill","rgba(126,87,194,0.1)");
[[70,"#787b86"],[50,"rgba(120,123,134,0.5)"],[30,"#787b86"]].forEach(([v,c])=>{
  gr.append("line").attr("x1",0).attr("x2",PR).attr("y1",Math.round(yR(v))+0.5).attr("y2",Math.round(yR(v))+0.5)
    .attr("stroke",c).attr("stroke-dasharray","4,4");
});
gr.append("path").datum(rsi.map((v,k)=>[firstBar+k,v])).attr("d",line(yR)).attr("fill","none").attr("stroke","#7e57c2").attr("stroke-width",1.1);
gr.append("path").datum(rsiSma).attr("d",line(yR)).attr("fill","none").attr("stroke","#f2dc5d").attr("stroke-width",1.4);

// separators
const sep = svg.append("g").attr("shape-rendering","crispEdges");
[panes.main[1],panes.macd[1],panes.rsi[1]].forEach(y=>{
  sep.append("line").attr("x1",0).attr("x2",W).attr("y1",y+0.5).attr("y2",y+0.5).attr("stroke",SEP);
});
sep.append("line").attr("x1",PR+0.5).attr("x2",PR+0.5).attr("y1",0).attr("y2",H).attr("stroke",SEP);

// right axis labels (the label hidden under the last-price box is skipped, as in the chart)
const ly = yP(lastPrice);
const ax = svg.append("g").attr("font-size",12).attr("fill",TXT);
const f4 = d3.format(".4f");
ax.selectAll(".pl").data(priceTicks.filter(t=>Math.abs(yP(t)-(ly+9))>20)).join("text")
  .attr("x",2397).attr("y",d=>yP(d)+4.5).text(d=>f4(d))
  .attr("fill",d=>d===0.58?"#8a8d97":TXT);
ax.append("text").attr("x",2397).attr("y",18).attr("font-size",11).text("USDT");
ax.selectAll(".ml").data(macdTicks).join("text").attr("x",2397).attr("y",d=>yM(d)+4.5)
  .text(d=>d<0?"\u2212"+f4(-d):f4(d));
ax.selectAll(".rl").data(rsiTicks).join("text").attr("x",2397).attr("y",d=>yR(d)+4.5).text(d=>d3.format(".2f")(d));
// last price box
svg.append("rect").attr("x",PR+1).attr("y",ly-8).attr("width",63).attr("height",34).attr("fill","#22ab94");
svg.append("text").attr("x",2397).attr("y",ly+6).attr("font-size",12).attr("font-weight",700).attr("fill","#fff").text(f4(lastPrice));
svg.append("text").attr("x",2397).attr("y",ly+20).attr("font-size",12).attr("fill","#fff").text(countdown);

// time axis
svg.append("g").attr("font-size",12).attr("fill",TXT).attr("text-anchor","middle")
  .selectAll("text").data(timeTickBars).join("text")
  .attr("x",d=>x(d)).attr("y",1197).text((d,k)=>timeTickLabels[k]);

// legends
const lg = svg.append("g").attr("font-size",12).attr("fill",TXT);
lg.append("text").attr("x",8).attr("y",20).attr("font-weight",600).text("ADAUSDT Perpetual Contract, 4h, BYBIT");
lg.append("text").attr("x",8).attr("y",37).text("Vol");
lg.append("text").attr("x",8).attr("y",54).text("BB (20, close, 2, 0)");
lg.append("text").attr("x",8).attr("y",679).text("MACD (12, 26, close, 9)");
lg.append("text").attr("x",8).attr("y",880).text("RSI (14, close, SMA, 14, 2)");
</script>
</body></html>
